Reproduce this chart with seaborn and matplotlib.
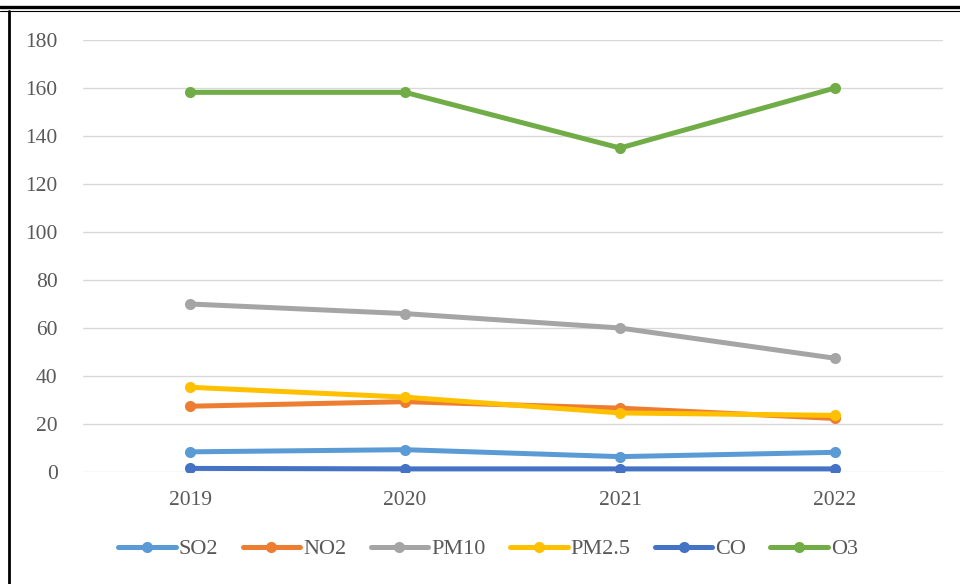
import matplotlib
matplotlib.use("Agg")
import matplotlib.pyplot as plt
import seaborn as sns
import pandas as pd
from matplotlib.lines import Line2D

# values
years = ["2019", "2020", "2021", "2022"]
so2 = [8.4, 9.3, 6.4, 8.2]
no2 = [27.4, 29.3, 26.6, 22.3]
pm10 = [70, 66, 60, 47.4]
pm25 = [35.3, 31.2, 24.6, 23.6]
co = [1.5, 1.3, 1.3, 1.3]
o3 = [158.2, 158.2, 135, 160]
pollutants = ["SO2", "NO2", "PM10", "PM2.5", "CO", "O3"]
colors = ["#5B9BD5", "#ED7D31", "#A5A5A5", "#FFC000", "#4472C4", "#70AD47"]
yticks = [0, 20, 40, 60, 80, 100, 120, 140, 160, 180]

series = [so2, no2, pm10, pm25, co, o3]
rows = []
for name, vals in zip(pollutants, series):
    for i, v in enumerate(vals):
        rows.append({"pos": i, "year": years[i], "pollutant": name, "value": v})
df = pd.DataFrame(rows)

sns.set_theme(style="white")
plt.rcParams["font.family"] = ["Liberation Serif", "DejaVu Serif"]

fig = plt.figure(figsize=(9.6, 5.84), dpi=100)
ax = fig.add_axes([82.5 / 960, 1 - 472 / 584, 860 / 960, 432 / 584])

sns.lineplot(data=df, x="pos", y="value", hue="pollutant", hue_order=pollutants,
             palette=colors, linewidth=3.6, marker="o", markersize=8,
             markeredgewidth=0, ax=ax, legend=False, zorder=3)

ax.set_xlim(-0.5, 3.5)
ax.set_ylim(0, 180)
ax.set_xticks(range(len(years)))
ax.set_xticklabels(years)
ax.set_yticks(yticks)
ax.set_xlabel("")
ax.set_ylabel("")
ax.grid(axis="y", color="#D9D9D9", linewidth=1)
ax.grid(axis="x", visible=False)
for s in ax.spines.values():
    s.set_visible(False)
ax.tick_params(axis="both", length=0, labelsize=15.5, colors="#595959")
ax.tick_params(axis="y", pad=18)
ax.tick_params(axis="x", pad=14)

handles = [Line2D([0], [0], color=c, lw=3.6, marker="o", markersize=8,
                  markeredgewidth=0) for c in colors]
fig.legend(handles, pollutants, loc="center", ncol=6, frameon=False,
           bbox_to_anchor=(488 / 960, 1 - 549 / 584), fontsize=16,
           handlelength=2.6, handletextpad=0.12, columnspacing=1.1,
           labelcolor="#595959")

# page frame lines around the chart
fig.add_artist(Line2D([0, 1], [1 - 6.5 / 584, 1 - 6.5 / 584], color="black",
                      lw=2.4, transform=fig.transFigure))
fig.add_artist(Line2D([0, 1], [1 - 10.5 / 584, 1 - 10.5 / 584], color="black",
                      lw=0.8, transform=fig.transFigure))
fig.add_artist(Line2D([8.6 / 960, 8.6 / 960], [0, 1 - 10.5 / 584], color="black",
                      lw=2.0, transform=fig.transFigure))

fig.savefig("out.png", dpi=100)
